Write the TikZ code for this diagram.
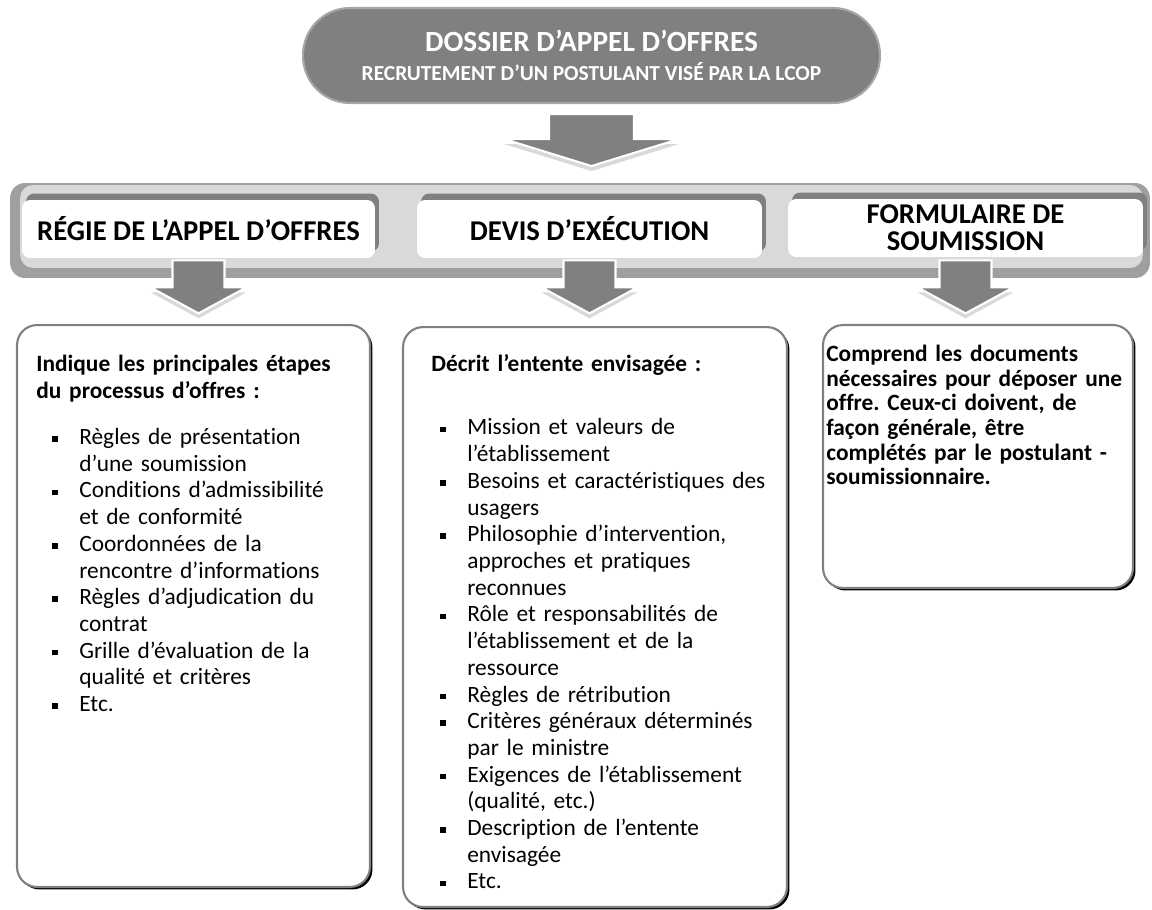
\documentclass[tikz,border=0pt]{standalone}
\usepackage{fontspec}
\setmainfont{Carlito}[Ligatures={NoCommon}]
\usetikzlibrary{calc,positioning,shadows}

\newcommand{\puce}{\rule[0.25ex]{0.11cm}{0.11cm}}
\newenvironment{puces}[1]{%
  \begin{list}{\puce}{\setlength{\leftmargin}{#1}\setlength{\labelsep}{0.43cm}%
    \setlength{\labelwidth}{0.38cm}\setlength{\itemsep}{0pt}\setlength{\parsep}{0pt}%
    \setlength{\topsep}{0pt}\setlength{\partopsep}{0pt}}}{\end{list}}

\tikzset{
  titre/.style={draw=gray!70, line width=1.2pt, fill=gray, rounded corners=0.94cm,
    minimum width=11.54cm, minimum height=1.9cm, text=white, align=center,
    font=\fontsize{12.2}{16.5}\selectfont\bfseries},
  entete/.style={fill=white, rounded corners=0.16cm, minimum height=1.16cm, align=center,
    font=\fontsize{16.3}{15.5}\selectfont\bfseries,
    drop shadow={shadow xshift=0.08cm, shadow yshift=0.13cm, fill=gray, opacity=1}},
  corps/.style={draw=gray, line width=1.2pt, fill=white, rounded corners=0.4cm,
    drop shadow={shadow xshift=0.05cm, shadow yshift=-0.05cm, fill=black, opacity=1}},
  texte/.style={inner sep=0pt, font=\fontsize{13.3}{15.2}\selectfont,
    execute at begin node={\raggedright\frenchspacing}},
  bloc/.style={fill=gray, draw=white, line width=1.2pt,
    drop shadow={shadow xshift=0cm, shadow yshift=-0.1cm, opacity=0.3}},
  grandefleche/.pic={\draw[bloc] (-42.5,0) -- (42.5,0) -- (42.5,25) -- (87.5,25) -- (0,52) -- (-87.5,25) -- (-42.5,25) -- cycle;},
  fleche/.pic={\draw[bloc] (-26,0) -- (26,0) -- (26,27) -- (48,27) -- (0,53) -- (-48,27) -- (-26,27) -- cycle;}
}

\begin{document}
\begin{tikzpicture}[x=0.02cm,y=-0.02cm]
	\useasboundingbox (0,0) rectangle (1152,909);
	
	% bande des trois documents
	\node[fill=gray!75, rounded corners=0.3cm, minimum width=22.8cm, minimum height=1.9cm] (bande) at (580,230.5) {};
	\node[fill=gray!30, rounded corners=0.26cm, minimum width=22.46cm, minimum height=1.66cm] (fondbande) at (581.5,226.5) {};
	
	\node[entete, minimum width=7.06cm] (regie) at (198.5,229) {RÉGIE DE L’APPEL D’OFFRES};
	\node[entete, minimum width=6.9cm] (devis) at (589.5,229) {DEVIS D’EXÉCUTION};
	\node[entete, minimum width=7.1cm] (formulaire) at (965.5,228) {FORMULAIRE DE\\SOUMISSION};
	
	% dossier
	\node[titre] (dossier) at (591.5,55.5) {{\fontsize{16.7}{18}\selectfont DOSSIER D’APPEL D’OFFRES}\\RECRUTEMENT D’UN POSTULANT VISÉ PAR LA LCOP};
	\pic at ($(dossier.south)+(0,10)$) {grandefleche};
	
	% contenu
	\node[corps, minimum width=7.06cm, minimum height=11.24cm] (gauche) at (193.5,606) {};
	\node[corps, minimum width=7.68cm, minimum height=11.6cm] (milieu) at (595,617) {};
	\node[corps, minimum width=6.2cm, minimum height=5.26cm] (droite) at (978,456.5) {};
	
	\pic at ($(regie.south)+(0,2)$) {fleche};
	\pic at ($(devis.south)+(0,2)$) {fleche};
	\pic at ($(formulaire.south)+(0,3)$) {fleche};
	
	\node[texte, text width=7cm, below right=0.62cm and 0.4cm of gauche.north west] (txtgauche) {%
		\textbf{Indique les principales étapes\\du processus d’offres :}\par\vspace{11pt}
		\begin{puces}{0.86cm}
			\item Règles de présentation\\d’une soumission
			\item Conditions d’admissibilité\\et de conformité
			\item Coordonnées de la\\rencontre d’informations
			\item Règles d’adjudication du\\contrat
			\item Grille d’évaluation de la\\qualité et critères
			\item Etc.
		\end{puces}};
	
	\node[texte, text width=7.4cm, below right=0.56cm and 0.58cm of milieu.north west] (txtmilieu) {%
		\textbf{Décrit l’entente envisagée :}\par\vspace{21pt}
		\begin{puces}{0.72cm}
			\item Mission et valeurs de\\l’établissement
			\item Besoins et caractéristiques des\\usagers
			\item Philosophie d’intervention,\\approches et pratiques\\reconnues
			\item Rôle et responsabilités de\\l’établissement et de la\\ressource
			\item Règles de rétribution
			\item Critères généraux déterminés\\par le ministre
			\item Exigences de l’établissement\\(qualité, etc.)
			\item Description de l’entente\\envisagée
			\item Etc.
		\end{puces}};
	
	\node[texte, text width=6.2cm, font=\fontsize{13.3}{14}\selectfont\bfseries, below right=0.42cm and 0.08cm of droite.north west] (txtdroite) {%
		Comprend les documents\\nécessaires pour déposer une\\offre. Ceux-ci doivent, de\\façon générale, être\\complétés par le postulant -\\soumissionnaire.};
\end{tikzpicture}
\end{document}
